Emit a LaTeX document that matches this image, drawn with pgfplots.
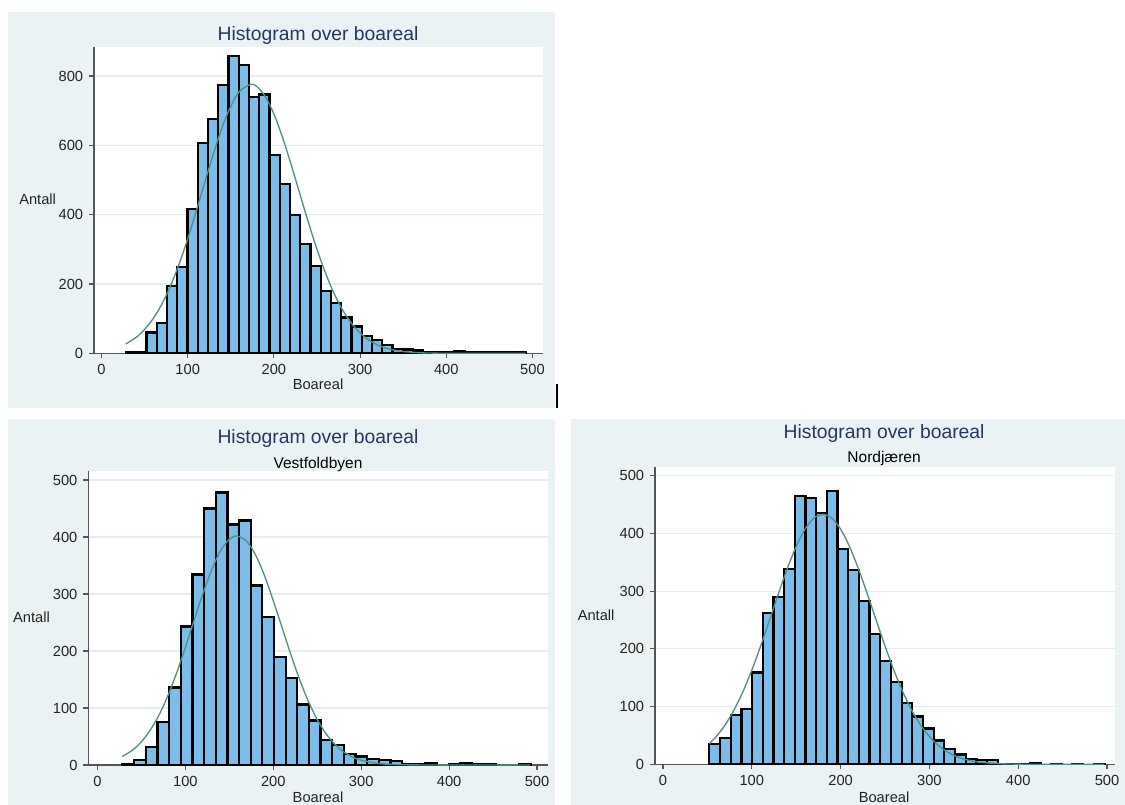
\documentclass[border=0pt]{standalone}
\usepackage{fontspec}
\setmainfont{Liberation Sans}
\usepackage{pgfplots}
\pgfplotsset{compat=1.18}
\definecolor{panel}{RGB}{234,242,243}
\definecolor{gridc}{RGB}{228,237,239}
\definecolor{barblue}{RGB}{124,188,232}
\definecolor{curvec}{RGB}{78,145,134}
\definecolor{titlec}{RGB}{38,55,98}
\definecolor{axisc}{RGB}{85,85,85}
\definecolor{textc}{RGB}{35,35,35}
\pgfplotsset{
 stata/.style={
  scale only axis, anchor=south west,
  axis lines*=left,
  axis background/.style={fill=white},
  axis line style={draw=axisc, line width=0.7pt},
  tick style={draw=axisc, line width=0.7pt},
  tick align=outside, major tick length=3pt,
  xtick={0,100,...,500},
  ymajorgrids, major grid style={draw=gridc, line width=0.7pt},
  ticklabel style={font=\fontsize{8.8}{10}\selectfont, text=textc},
  /pgf/number format/assume math mode=true,
  xlabel={Boareal}, ylabel={Antall},
  label style={font=\fontsize{8.8}{10}\selectfont, text=textc},
  ylabel style={rotate=-90, anchor=center},
  xlabel style={anchor=center},
  title style={font=\fontsize{11.6}{13}\selectfont, text=titlec, anchor=base},
  title={Histogram over boareal},
  clip=false,
 },
 hist/.style={ybar interval, fill=barblue, draw=black, line width=1.35pt},
 normc/.style={smooth, draw=curvec, line width=0.8pt, mark=none},
}
\begin{document}
\begin{tikzpicture}[x=0.6pt,y=0.6pt]
\fill[white] (0,0) rectangle (1125,805);
\fill[panel] (8,397) rectangle (555,793);
\fill[panel] (8,0) rectangle (555,386);
\fill[panel] (571,0) rectangle (1125,386);
\draw[black, line width=1.2pt] (556.5,397) -- (556.5,421);

% ---------------- top: all ----------------
\begin{axis}[stata, at={(56.4pt,271.02pt)}, width=269.4pt, height=183.78pt,
  xmin=-8.7, xmax=512.2, ymin=0, ymax=883.7, ytick={0,200,...,800},
  title style={at={(axis description cs:0.499,0.988)}},
  ylabel style={at={(axis description cs:-0.1256,0.5038)}},
  xlabel style={at={(axis description cs:0.499,-0.1002)}}]
\addplot[hist] coordinates {
 (28.3,3) (40.2,2) (52.1,60) (64.0,88) (75.9,194) (87.8,248) (99.7,416)
 (111.6,606) (123.5,675) (135.4,775) (147.3,858) (159.2,831) (171.1,740)
 (183.0,747) (194.9,573) (206.8,488) (218.7,399) (230.6,315) (242.5,252)
 (254.4,180) (266.3,145) (278.2,103) (290.1,77) (302.0,50) (313.9,38)
 (325.8,23) (337.7,12) (349.6,11) (361.5,8) (373.4,3) (385.3,2) (397.2,2)
 (409.1,7) (421.0,2) (432.9,2) (444.8,2) (456.7,2) (468.6,2) (480.5,2)
 (492.4,0)};
\addplot[normc] coordinates {
 (28,26.7) (40,45.5) (50,68.7) (60,100.3) (70,141.8) (80,194.1) (90,257.3)
 (100,330.3) (110,410.8) (120,494.8) (130,577) (140,651.8) (150,712.9)
 (160,755.3) (173,776) (180,769.9) (190,740.9) (200,690.5) (210,623.1)
 (220,544.7) (230,461) (240,377.9) (250,300.1) (260,230.7) (270,171.8)
 (280,123.9) (290,86.5) (300,58.5) (310,38.3) (320,24.3) (330,14.9)
 (340,8.9) (350,5.1) (370,1.55) (390,0.4) (420,0.04) (492,0)};
\end{axis}

% ---------------- bottom left: Vestfoldbyen ----------------
\begin{axis}[stata, at={(52.98pt,24pt)}, width=275.82pt, height=176.4pt,
  xmin=-10.5, xmax=512.5, ymin=0, ymax=515.8, ytick={0,100,...,500},
  title style={at={(axis description cs:0.4997,1.058)}},
  ylabel style={at={(axis description cs:-0.1236,0.503)}},
  xlabel style={at={(axis description cs:0.4997,-0.1096)}},
  extra description/.code={\node[font=\fontsize{9.3}{11}\selectfont, text=black, anchor=base]
     at (axis description cs:0.4997,1.007) {Vestfoldbyen};}]
\addplot[hist] coordinates {
 (28.40,1) (41.66,9) (54.92,32) (68.18,75) (81.44,136) (94.70,243)
 (107.96,334) (121.22,450) (134.48,478) (147.74,422) (161.00,429)
 (174.26,315) (187.52,260) (200.78,190) (214.04,153) (227.30,106)
 (240.56,78) (253.82,44) (267.08,35) (280.34,19) (293.60,15) (306.86,10)
 (320.12,9) (333.38,7) (346.64,2) (359.90,1) (373.16,4) (386.42,0)};
\addplot[hist] coordinates {
 (399.68,2) (412.94,3) (426.20,2) (439.46,1) (452.72,0)};
\addplot[hist] coordinates {(479.24,2) (492.50,0)};
\addplot[normc] coordinates {
 (28,14.8) (40,26.3) (50,40.9) (60,61.1) (70,87.8) (80,121.4) (90,161.5)
 (100,206.7) (110,254.4) (120,301) (130,343) (140,376) (150,396)
 (158.6,402) (170,392) (180,368) (190,332) (200,288) (210,241)
 (220,193.6) (230,149.7) (240,111.3) (250,79.6) (260,54.8) (270,36.3)
 (280,23.1) (290,14.2) (300,8.3) (320,2.6) (340,0.7) (370,0.08)
 (420,0) (492,0)};
\end{axis}

% ---------------- bottom right: Nordjaeren ----------------
\begin{axis}[stata, at={(393pt,24.42pt)}, width=276pt, height=178.38pt,
  xmin=-9.0, xmax=509, ymin=0, ymax=515, ytick={0,100,...,500},
  title style={at={(axis description cs:0.498,1.063)}},
  ylabel style={at={(axis description cs:-0.128,0.5005)}},
  xlabel style={at={(axis description cs:0.498,-0.1096)}},
  extra description/.code={\node[font=\fontsize{9.3}{11}\selectfont, text=black, anchor=base]
     at (axis description cs:0.498,1.0144) {Nordjæren};}]
\addplot[hist] coordinates {
 (52.20,35) (64.23,46) (76.26,85) (88.29,96) (100.32,159) (112.35,262)
 (124.38,290) (136.41,338) (148.44,465) (160.47,461) (172.50,435)
 (184.53,474) (196.56,373) (208.59,336) (220.62,283) (232.65,226)
 (244.68,179) (256.71,143) (268.74,106) (280.77,83) (292.80,62)
 (304.83,41) (316.86,27) (328.89,17) (340.92,9) (352.95,8) (364.98,8)
 (377.01,1) (389.04,1) (401.07,1) (413.10,2) (425.13,0)};
\addplot[hist] coordinates {(437.16,1) (449.19,0)};
\addplot[hist] coordinates {(461.22,1) (473.25,0)};
\addplot[hist] coordinates {(485.28,1) (497.31,0)};
\addplot[normc] coordinates {
 (52,35.5) (60,48.1) (70,68.3) (80,94) (90,125.7) (100,163) (110,205)
 (120,250) (130,295.6) (140,339) (150,377.4) (160,407.4) (170,426.5)
 (180,433) (190,426.5) (200,407.4) (210,377.4) (220,339) (230,295.6)
 (240,250) (250,205) (260,163) (270,125.7) (280,94) (290,68.3) (300,48.1)
 (310,32.8) (320,21.7) (330,13.9) (340,8.7) (350,5.3) (360,3.1)
 (380,0.96) (400,0.27) (430,0.03) (497,0)};
\end{axis}
\pgfresetboundingbox
\path (0,0) rectangle (1125,805);
\end{tikzpicture}
\end{document}
